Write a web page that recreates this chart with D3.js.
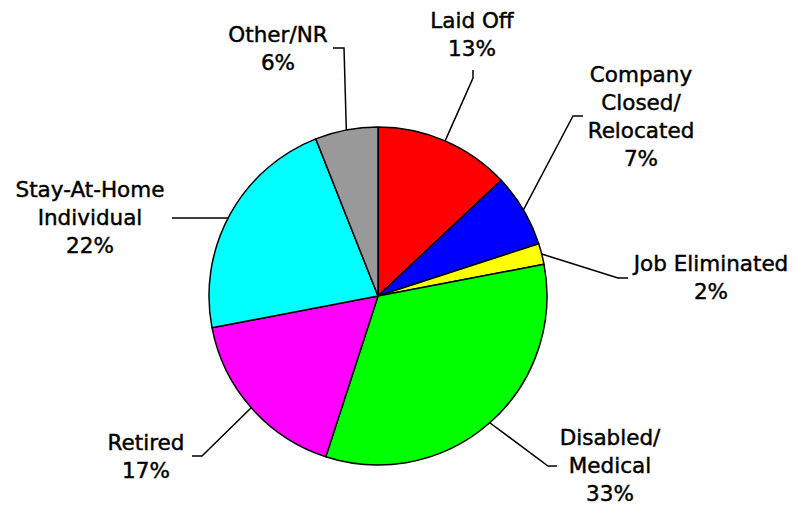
<!DOCTYPE html>
<html>
<head>
<meta charset="utf-8">
<script src="https://cdn.jsdelivr.net/npm/d3@7"></script>
<style>
  body { margin: 0; background: #fff; }
  text { font-family: Verdana, "DejaVu Sans", sans-serif; font-size: 21.5px; fill: #000; stroke: #000; stroke-width: 0.45px; }
</style>
</head>
<body>
<div id="chart"></div>
<script>
// Reasons, clockwise from 12 o'clock
const categories = ["Laid Off", "Company Closed/ Relocated", "Job Eliminated", "Disabled/ Medical", "Retired", "Stay-At-Home Individual", "Other/NR"];
const percentages = [13, 7, 2, 33, 17, 22, 6];
const sliceColors = ["#ff0000", "#0000ff", "#ffff00", "#00ff00", "#ff00ff", "#00ffff", "#999999"];

// Label text lines (the last line holds the percentage)
const labelLines = [
    ["Laid Off"],
    ["Company", "Closed/", "Relocated"],
    ["Job Eliminated"],
    ["Disabled/", "Medical"],
    ["Retired"],
    ["Stay-At-Home", "Individual"],
    ["Other/NR"]
];

const width = 795, height = 508;
const cx = 378, cy = 296, radius = 169;
const lineHeight = 28;

// Label placement: text centre x, first baseline y, and leader line bends
const labelLayout = [
    { x: 472, y: 28,  leader: [[473, 70], [473, 78]] },
    { x: 641, y: 82,  leader: [[583, 116], [573, 116]] },
    { x: 711, y: 271, leader: [[628, 278], [618, 278]] },
    { x: 610, y: 445, leader: [[557, 466], [548, 466]] },
    { x: 146, y: 450, leader: [[192, 456], [202, 456]] },
    { x: 90,  y: 197, leader: [[172, 218]] },
    { x: 278, y: 42,  leader: [[333, 48], [344, 48]] }
];

const svg = d3.select("#chart").append("svg")
    .attr("width", width)
    .attr("height", height);

const g = svg.append("g").attr("transform", `translate(${cx},${cy})`);

const pie = d3.pie().sort(null).value(d => d)(percentages);
const arc = d3.arc().innerRadius(0).outerRadius(radius);

g.selectAll("path.slice")
    .data(pie)
    .join("path")
    .attr("class", "slice")
    .attr("d", arc)
    .attr("fill", (d, i) => sliceColors[i])
    .attr("stroke", "#000")
    .attr("stroke-width", 1.5)
    .attr("stroke-linejoin", "round");

// Leader lines from the middle of each slice edge to its label
pie.forEach((d, i) => {
    const mid = (d.startAngle + d.endAngle) / 2;
    let edge = [cx + radius * Math.sin(mid), cy - radius * Math.cos(mid)];
    const pts = labelLayout[i].leader.slice();
    // Stay-At-Home leader runs horizontally into the pie edge
    if (pts.length === 1) {
        const dy = pts[0][1] - cy;
        edge = [cx - Math.sqrt(radius * radius - dy * dy), pts[0][1]];
    }
    svg.append("path")
        .attr("d", d3.line()([...pts, edge]))
        .attr("fill", "none")
        .attr("stroke", "#000")
        .attr("stroke-width", 1.5);
});

// Labels
labelLayout.forEach((lay, i) => {
    const lines = [...labelLines[i], `${percentages[i]}%`];
    const t = svg.append("text")
        .attr("text-anchor", "middle");
    lines.forEach((ln, j) => {
        t.append("tspan")
            .attr("x", lay.x)
            .attr("y", lay.y + j * lineHeight)
            .text(ln);
    });
});
</script>
</body>
</html>
